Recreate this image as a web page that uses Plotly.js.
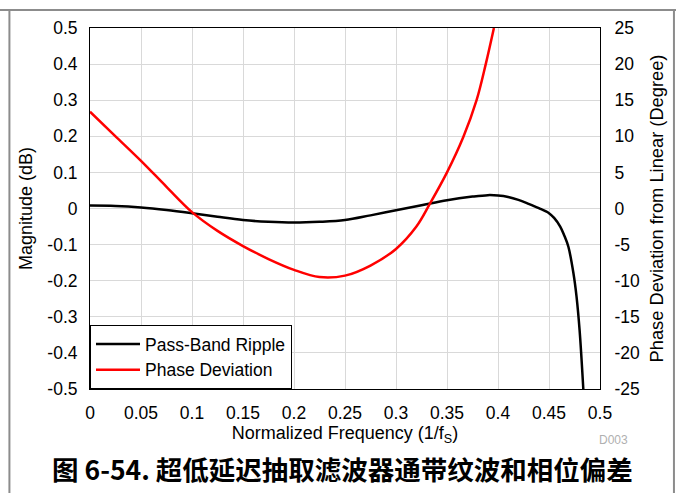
<!DOCTYPE html>
<html>
<head>
<meta charset="utf-8">
<script src="https://cdn.plot.ly/plotly-3.0.1.min.js"></script>
<style>
html,body{margin:0;padding:0;background:#fff;}
#chart{width:676px;height:493px;}
</style>
</head>
<body>
<div id="chart"></div>
<script>
// Pass-band ripple (dB) vs normalized frequency
const rippleFreq = [0, 0.025, 0.05, 0.075, 0.1, 0.125, 0.15, 0.175, 0.2, 0.225, 0.25, 0.275, 0.3, 0.325, 0.35, 0.375, 0.39, 0.4, 0.41, 0.42, 0.43, 0.44, 0.45, 0.455, 0.461, 0.465, 0.469, 0.474, 0.477, 0.48, 0.4837];
const rippleDb   = [0.008, 0.007, 0.003, -0.004, -0.013, -0.023, -0.032, -0.037, -0.039, -0.037, -0.032, -0.019, -0.005, 0.009, 0.023, 0.033, 0.037, 0.036, 0.032, 0.024, 0.013, 0.001, -0.013, -0.026, -0.05, -0.075, -0.106, -0.18, -0.244, -0.337, -0.503];

// Phase deviation from linear (degrees)
const phaseFreq = [0, 0.025, 0.05, 0.075, 0.1, 0.125, 0.15, 0.175, 0.2, 0.225, 0.25, 0.275, 0.3, 0.32, 0.333, 0.35, 0.366, 0.379, 0.388, 0.396];
const phaseDeg  = [13.4, 10.0, 6.6, 3.0, -0.5, -3.1, -5.2, -7.0, -8.5, -9.5, -9.3, -7.9, -5.6, -2.5, 0.6, 5.0, 9.9, 15.0, 20.0, 25.0];

const xTickVals = [0, 0.05, 0.1, 0.15, 0.2, 0.25, 0.3, 0.35, 0.4, 0.45, 0.5];
const xTickText = ["0", "0.05", "0.1", "0.15", "0.2", "0.25", "0.3", "0.35", "0.4", "0.45", "0.5"];
const yTickVals = [-0.5, -0.4, -0.3, -0.2, -0.1, 0, 0.1, 0.2, 0.3, 0.4, 0.5];
const yTickText = ["-0.5", "-0.4", "-0.3", "-0.2", "-0.1", "0", "0.1", "0.2", "0.3", "0.4", "0.5"];
const y2TickVals = [-25, -20, -15, -10, -5, 0, 5, 10, 15, 20, 25];
const y2TickText = ["-25", "-20", "-15", "-10", "-5", "0", "5", "10", "15", "20", "25"];

const FONT = "Liberation Sans, Arial, sans-serif";

const traces = [
  {
    x: rippleFreq, y: rippleDb, name: "Pass-Band Ripple", type: "scatter", mode: "lines",
    line: {color: "#000000", width: 2.5, shape: "spline", smoothing: 1}, yaxis: "y"
  },
  {
    x: phaseFreq, y: phaseDeg, name: "Phase Deviation", type: "scatter", mode: "lines",
    line: {color: "#ff0000", width: 2.5, shape: "spline", smoothing: 1}, yaxis: "y2"
  }
];

const frameColor = "#8c8c8c";
const layout = {
  width: 676, height: 493,
  margin: {l: 90, r: 76, t: 28, b: 104, pad: 0},
  paper_bgcolor: "#ffffff", plot_bgcolor: "#ffffff",
  font: {family: FONT, size: 17.5, color: "#000"},
  showlegend: true,
  legend: {
    x: 0, y: 0, xanchor: "left", yanchor: "bottom",
    bgcolor: "#ffffff", bordercolor: "#000", borderwidth: 1,
    font: {family: FONT, size: 17.5, color: "#000"},
    itemwidth: 44,
    tracegroupgap: 0
  },
  xaxis: {
    range: [0, 0.5], tickvals: xTickVals, ticktext: xTickText,
    showgrid: true, gridcolor: "#d9d9d9", gridwidth: 1,
    showline: true, linecolor: "#000", linewidth: 1, mirror: true,
    ticks: "outside", ticklen: 8, tickcolor: "rgba(0,0,0,0)",
    zeroline: false, fixedrange: true,
    tickfont: {family: FONT, size: 17.5},
    title: {text: "Normalized Frequency (1/f<sub>S</sub>)", font: {family: FONT, size: 18}, standoff: 2}
  },
  yaxis: {
    range: [-0.5, 0.5], tickvals: yTickVals, ticktext: yTickText,
    showgrid: true, gridcolor: "#d9d9d9", gridwidth: 1,
    showline: true, linecolor: "#000", linewidth: 1, mirror: true,
    ticks: "outside", ticklen: 8, tickcolor: "rgba(0,0,0,0)",
    zeroline: false, fixedrange: true,
    tickfont: {family: FONT, size: 17.5},
    title: {text: "Magnitude (dB)", font: {family: FONT, size: 18}, standoff: 10}
  },
  yaxis2: {
    range: [-25, 25], tickvals: y2TickVals, ticktext: y2TickText,
    overlaying: "y", side: "right", showgrid: false, zeroline: false,
    ticks: "outside", ticklen: 10, tickcolor: "rgba(0,0,0,0)",
    fixedrange: true,
    tickfont: {family: FONT, size: 17.5},
    title: {text: "Phase Deviation from Linear (Degree)", font: {family: FONT, size: 18.3}, standoff: 11}
  },
  shapes: [
    {type: "line", xref: "paper", yref: "paper", x0: -0.18, x1: 1.16, y0: 1.0499, y1: 1.0499, line: {color: frameColor, width: 2}},
    {type: "line", xref: "paper", yref: "paper", x0: -0.158, x1: -0.158, y0: -0.3, y1: 1.0499, line: {color: frameColor, width: 2}},
    {type: "line", xref: "paper", yref: "paper", x0: 1.145, x1: 1.145, y0: -0.3, y1: 1.0499, line: {color: frameColor, width: 2}}
  ],
  annotations: [
    {
      text: "<b>图 6-54. 超低延迟抽取滤波器通带纹波和相位偏差</b>",
      xref: "paper", yref: "paper", x: 0.496, y: -0.2216, xanchor: "center", yanchor: "middle",
      showarrow: false, font: {family: "Noto Sans CJK SC", size: 26.5, color: "#000"}
    },
    {
      text: "D003", xref: "paper", yref: "paper", x: 1.059, y: -0.141, xanchor: "right", yanchor: "middle",
      showarrow: false, font: {family: FONT, size: 12, color: "#b0b0b0"}
    }
  ]
};

Plotly.newPlot("chart", traces, layout, {displayModeBar: false, staticPlot: true});
</script>
</body>
</html>
